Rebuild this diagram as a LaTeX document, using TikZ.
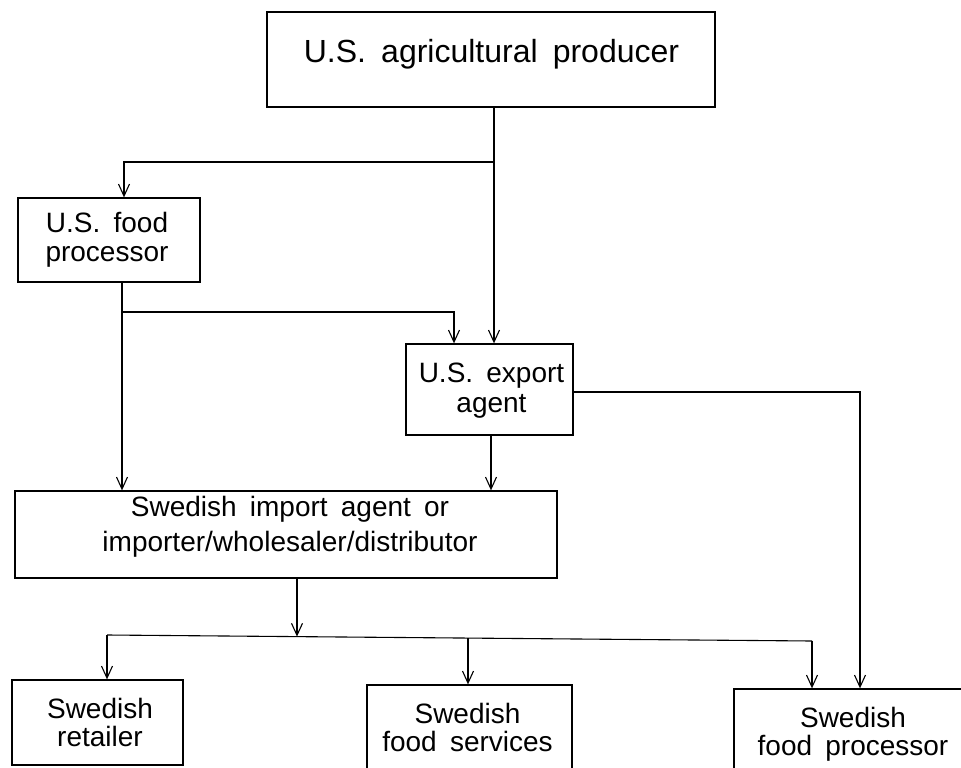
\documentclass[tikz,border=0pt]{standalone}
\usepackage{fontspec}
\setmainfont{Liberation Sans}[WordSpace=1.7]
\usetikzlibrary{arrows.meta}
\begin{document}
\begin{tikzpicture}[x=1pt,y=-1pt,
  box/.style={draw, line width=1.3pt, inner sep=0pt},
  lbl/.style={inner sep=0pt, align=center, font=\fontsize{28}{29}\selectfont},
  conn/.style={line width=1.1pt},
  arr/.style={conn, -{Straight Barb[length=12pt,width=11pt,line width=1.1pt]}}]
\useasboundingbox (0,0) rectangle (961,768);
% boxes
\node[box, minimum width=448pt, minimum height=95pt] (prod) at (491,59.5) {};
\node[box, minimum width=182pt, minimum height=84pt] (fp) at (109,240) {};
\node[box, minimum width=167pt, minimum height=91pt] (ea) at (489.5,389.5) {};
\node[box, minimum width=542pt, minimum height=87pt] (imp) at (286,534.5) {};
\node[box, minimum width=171pt, minimum height=85pt] (ret) at (97.5,722.5) {};
\node[box, minimum width=205pt, minimum height=90pt] (fs) at (469.5,730) {};
\node[box, minimum width=242pt, minimum height=90pt] (sfp) at (855,734) {};
% texts
\node[lbl, font=\fontsize{32}{34}\selectfont] (prodT) at (491.5,54.7) {U.S. agricultural producer};
\node[lbl] (fpT) at (107,239.3) {U.S. food\\processor};
\node[lbl, font=\fontsize{28}{30}\selectfont] (eaT) at (491.5,390.75) {U.S. export\\agent};
\node[lbl, font=\fontsize{28}{35}\selectfont] (impT) at (290,527.25) {Swedish import agent or\\importer/wholesaler/distributor};
\node[lbl, font=\fontsize{28}{28}\selectfont] (retT) at (100,722.8) {Swedish\\retailer};
\node[lbl, font=\fontsize{28}{28}\selectfont] (fsT) at (467.5,727.8) {Swedish\\food services};
\node[lbl, font=\fontsize{28}{28}\selectfont] (sfpT) at (853,734.75) {Swedish\\food processor};
% junctions
\coordinate (j1) at (494,162);
\coordinate (j2) at (122,312);
\coordinate (j3) at (860,392);
\coordinate (j4) at (297,636.6);
\coordinate (b1) at (107,635);
\coordinate (b2) at (468,638);
\coordinate (b3) at (812,641);
% connectors
\draw[arr] (prod.south -| j1) -- (ea.north -| j1);
\draw[arr] (j1) -| ([xshift=15pt]fp.north);
\draw[arr] (fp.south -| j2) -- (imp.north -| j2);
\draw[arr] (j2) -| ([xshift=-35.5pt]ea.north);
\draw[arr] ([xshift=1.5pt]ea.south) -- ([xshift=1.5pt]ea.south |- imp.north);
\draw[arr] (ea.east |- j3) -| (sfp.north -| j3);
\draw[arr] (imp.south -| j4) -- (j4);
\draw[conn] (b1) -- (b3);
\draw[arr] (b1) -- (ret.north -| b1);
\draw[arr] (b2) -- (fs.north -| b2);
\draw[arr] (b3) -- (sfp.north -| b3);
\end{tikzpicture}
\end{document}
